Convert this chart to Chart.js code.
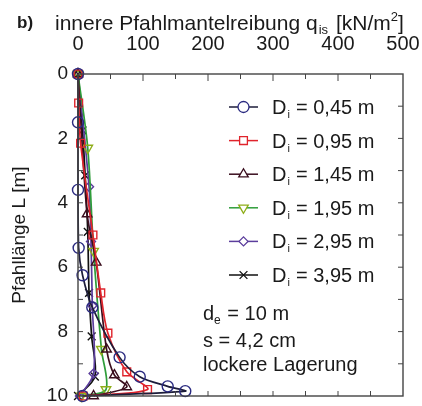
<!DOCTYPE html>
<html>
<head>
<meta charset="utf-8">
<script src="https://cdn.jsdelivr.net/npm/chart.js@4"></script>
<style>
  html, body { margin: 0; padding: 0; background: #fff; }
  #wrap { width: 422px; height: 406px; }
</style>
</head>
<body>
<div id="wrap"><canvas id="myChart" width="422" height="406"></canvas></div>
<script>
// depths [m] and inner shaft friction q_is [kN/m2]
var seriesLabels = ['0,45 m', '0,95 m', '1,45 m', '1,95 m', '2,95 m', '3,95 m'];

var depth045 = [0, 1.5, 3.6, 5.4, 6.25, 7.25, 8.8, 9.4, 9.7, 9.85, 10];
var q045     = [0, 0, 0, 1, 7, 22, 64, 95, 138, 165, 7];

var depth095 = [0, 0.9, 2.15, 5.0, 6.8, 8.05, 9.25, 9.8, 10];
var q095     = [0, 1, 4, 23, 35, 46, 75, 107, 8];

var depth145 = [0, 4.35, 5.85, 8.55, 9.35, 9.72, 10];
var q145     = [0, 14, 28, 44, 56, 75, 24];

var depth195 = [0, 2.3, 5.5, 8.55, 9.8, 10];
var q195     = [0, 15, 24, 36, 43, 5];

var depth295 = [0, 3.5, 5.2, 7.2, 9.3, 10];
var q295     = [0, 17, 20, 22, 24, 3];

var depth395 = [0, 1.75, 3.15, 4.9, 6.8, 8.15, 9.4, 10];
var q395     = [0, 7, 11, 15, 17, 21, 26, 0];

var xTicks = [0, 100, 200, 300, 400, 500];
var yTicks = [0, 2, 4, 6, 8, 10];

function pts(d, q) {
  return d.map(function (v, i) { return { x: q[i], y: v }; });
}

var FONT = 'Arial, "Liberation Sans", sans-serif';

function ds(label, d, q, line, mark, style, rot, r) {
  return {
    label: label,
    data: pts(d, q),
    showLine: true,
    borderColor: line,
    borderWidth: 1.7,
    tension: 0.3,
    pointStyle: style,
    rotation: rot,
    pointRadius: r,
    pointBorderColor: mark,
    pointBackgroundColor: 'rgba(0,0,0,0)',
    pointBorderWidth: 1.4,
    clip: false
  };
}

var datasets = [
  ds(seriesLabels[0], depth045, q045, '#1d1d3a', '#2a2a80', 'circle', 0, 5.5),
  ds(seriesLabels[1], depth095, q095, '#e0242c', '#e0242c', 'rect', 0, 5.5),
  ds(seriesLabels[2], depth145, q145, '#3a0e1e', '#3a0e1e', 'triangle', 0, 5.5),
  ds(seriesLabels[3], depth195, q195, '#2f9d3a', '#8fae1a', 'triangle', 180, 5.5),
  ds(seriesLabels[4], depth295, q295, '#5b3d9c', '#5b3d9c', 'rectRot', 0, 4.5),
  ds(seriesLabels[5], depth395, q395, '#111111', '#111111', 'crossRot', 0, 5.5)
];

// frame, inward ticks, title, legend and notes
var decor = {
  id: 'decor',
  afterDatasetsDraw: function (chart) {
    var c = chart.ctx, a = chart.chartArea;
    var xs = chart.scales.x, ys = chart.scales.y;
    c.save();
    c.strokeStyle = '#444';
    c.lineWidth = 1.4;
    c.strokeRect(a.left, a.top, a.right - a.left, a.bottom - a.top);
    c.lineWidth = 1;
    c.beginPath();
    for (var v = 50; v < 500; v += 50) {
      var px = xs.getPixelForValue(v);
      var len = v % 100 === 0 ? 7 : 5;
      c.moveTo(px, a.top); c.lineTo(px, a.top + len);
      c.moveTo(px, a.bottom); c.lineTo(px, a.bottom - 5);
    }
    for (var w = 1; w < 10; w++) {
      var py = ys.getPixelForValue(w);
      c.moveTo(a.left, py); c.lineTo(a.left + 5, py);
      c.moveTo(a.right, py); c.lineTo(a.right - 5, py);
    }
    c.stroke();

    c.fillStyle = '#1a1a1a';
    c.textBaseline = 'alphabetic';
    c.font = 'bold 17px ' + FONT;
    c.fillText('b)', 17, 28);

    // axis title with subscript
    var x0 = 55, base = 30;
    c.font = '21px ' + FONT;
    var t1 = 'innere Pfahlmantelreibung q';
    c.fillText(t1, x0, base);
    x0 += c.measureText(t1).width;
    c.font = '13px ' + FONT;
    c.fillText('is', x0 + 1, base + 4);
    x0 += c.measureText('is').width + 3;
    c.font = '21px ' + FONT;
    c.fillText(' [kN/m', x0, base);
    x0 += c.measureText(' [kN/m').width;
    c.font = '13px ' + FONT;
    c.fillText('2', x0, base - 9);
    x0 += c.measureText('2').width;
    c.font = '21px ' + FONT;
    c.fillText(']', x0, base);

    // legend
    chart.data.datasets.forEach(function (d, i) {
      var y = 107 + i * 33.6;
      c.strokeStyle = d.borderColor;
      c.lineWidth = 1.5;
      c.beginPath(); c.moveTo(229, y); c.lineTo(258, y); c.stroke();
      c.strokeStyle = d.pointBorderColor;
      c.fillStyle = '#fff';
      c.lineWidth = 1.3;
      Chart.helpers.drawPoint(c, {
        pointStyle: d.pointStyle, rotation: d.rotation,
        radius: d.pointRadius, borderWidth: 1.3
      }, 243.5, y);
      c.fillStyle = '#1a1a1a';
      c.font = '20px ' + FONT;
      c.fillText('D', 272, y + 7);
      var dx = 272 + c.measureText('D').width;
      c.font = '11px ' + FONT;
      c.fillText('i', dx + 1, y + 11);
      c.font = '20px ' + FONT;
      c.fillText(' = ' + d.label, dx + 4, y + 7);
    });

    // notes
    c.font = '20px ' + FONT;
    c.fillText('d', 203, 320);
    var ex = 203 + c.measureText('d').width;
    c.font = '12px ' + FONT;
    c.fillText('e', ex, 324);
    c.font = '20px ' + FONT;
    c.fillText(' = 10 m', ex + c.measureText('e').width * 0.6 + 1, 320);
    c.fillText('s = 4,2 cm', 203, 347);
    c.fillText('lockere Lagerung', 203, 371);
    c.restore();
  }
};

var ctx = document.getElementById('myChart').getContext('2d');
var myChart = new Chart(ctx, {
  type: 'scatter',
  data: { datasets: datasets },
  options: {
    responsive: false,
    animation: false,
    layout: { padding: { left: 0, top: 0, right: 19, bottom: 10 } },
    plugins: { legend: { display: false }, tooltip: { enabled: false } },
    scales: {
      x: {
        type: 'linear',
        position: 'top',
        min: 0, max: 500,
        afterFit: function (s) { s.height = 74; s.paddingLeft = 0; s.paddingRight = 0; },
        afterBuildTicks: function (s) { s.ticks = xTicks.map(function (v) { return { value: v }; }); },
        grid: { display: false, drawTicks: false },
        border: { display: false },
        ticks: { padding: 18, color: '#1a1a1a', font: { size: 20, family: FONT } }
      },
      y: {
        type: 'linear',
        reverse: true,
        min: 0, max: 10,
        afterFit: function (s) { s.width = 78; s.paddingTop = 0; s.paddingBottom = 0; },
        afterBuildTicks: function (s) { s.ticks = yTicks.map(function (v) { return { value: v }; }); },
        grid: { display: false, drawTicks: false },
        border: { display: false },
        ticks: { padding: 10, color: '#1a1a1a', font: { size: 19, family: FONT } },
        title: {
          display: true,
          text: 'Pfahllänge L [m]',
          color: '#1a1a1a',
          font: { size: 19, family: FONT },
          padding: { top: 8, bottom: 0 }
        }
      }
    }
  },
  plugins: [decor]
});
</script>
</body>
</html>
